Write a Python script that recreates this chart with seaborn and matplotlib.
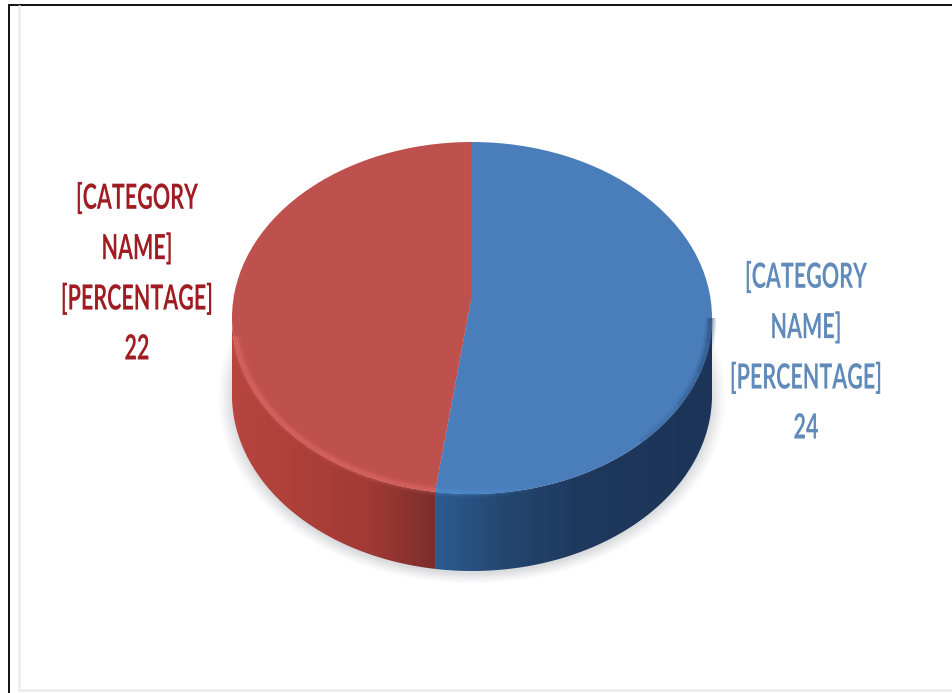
import numpy as np
import seaborn as sns
import matplotlib.pyplot as plt
import matplotlib.patheffects as pe
from matplotlib.colors import LinearSegmentedColormap
from matplotlib.patches import Ellipse, Polygon
from matplotlib.transforms import Affine2D

# Datos
etiqueta = '[CATEGORY\nNAME]\n[PERCENTAGE]\n'
valores = [24, 22]  # azul, rojo
colores = ['#4a7ebb', '#be504d']
colores_texto = ['#5f8ab9', '#a01c22']

sns.set_theme(style='white')
plt.rcParams['font.family'] = ['Lato', 'DejaVu Sans']

W, H = 953, 693
cx, cy, rx, ry = 472, 318, 240, 176   # elipse superior, en pixeles
grosor = 77 / ry
vertice = (-1 / rx, 18 / ry)          # vertice de los sectores (perspectiva)
inicio = 90

fig = plt.figure(figsize=(W / 100, H / 100), dpi=100)
ax = fig.add_axes([0, 0, 1, 1])


def arco(a0, a1, dy=0.0, r=1.0):
    t = np.radians(np.linspace(a0, a1, 160))
    return r * np.cos(t), r * np.sin(t) - dy


class Estrecho(pe.AbstractPathEffect):
    # comprime el texto en horizontal, la fuente instalada es mas ancha
    def __init__(self, x, f):
        super().__init__()
        self.x, self.f = x, f

    def draw_path(self, renderer, gc, tpath, affine, rgbFace=None):
        t = affine + Affine2D().translate(-self.x, 0).scale(self.f, 1).translate(self.x, 0)
        renderer.draw_path(gc, tpath, t, rgbFace)


# Donde corta el radio entre sectores con el borde de la elipse
ang = np.radians(inicio - 360 * valores[0] / sum(valores))
dx, dy = np.cos(ang), np.sin(ang)
b = vertice[0] * dx + vertice[1] * dy
s = -b + np.sqrt(b ** 2 - (vertice[0] ** 2 + vertice[1] ** 2 - 1))
corte = np.degrees(np.arctan2(vertice[1] + s * dy, vertice[0] + s * dx))

# Sombra suave bajo el cilindro
for r, a in zip(np.linspace(1.06, 1.0, 10), np.linspace(0.015, 0.05, 10)):
    ax.add_patch(Ellipse((0, -grosor - 0.015), 2 * r, 2 * r, fc='#8a9498', ec='none', alpha=a, zorder=1))

# Paredes laterales con degradado
cm_rojo = LinearSegmentedColormap.from_list('r', ['#b8453f', '#ad3f39', '#a23a35', '#7b2e2b'])
cm_azul = LinearSegmentedColormap.from_list('a', ['#2c5b91', '#24466f', '#1f3a5f', '#1d3659', '#1c3457'])
for a0, a1, cm in [(-180, corte, cm_rojo), (corte, 0, cm_azul)]:
    xs, ys = arco(a0, a1)
    xb, yb = arco(a1, a0, dy=grosor)
    pol = Polygon(np.c_[np.r_[xs, xb], np.r_[ys, yb]], closed=True, fc='none', ec='none', zorder=2)
    ax.add_patch(pol)
    im = ax.imshow(np.linspace(0, 1, 256)[None, :], cmap=cm, aspect='auto', zorder=2,
                   extent=[xs.min(), xs.max(), yb.min(), ys.max()])
    im.set_clip_path(pol)

# Cara superior: sectores recortados a la elipse
cara = Ellipse((0, 0), 2, 2, fc='none', ec='none', zorder=3)
ax.add_patch(cara)
sectores, _ = ax.pie(valores, colors=colores, startangle=inicio, counterclock=False, radius=1.4,
                     center=vertice, wedgeprops={'linewidth': 0, 'zorder': 3})
for w in sectores:
    w.set_clip_on(True)
    w.set_clip_path(cara)

# Brillo en el borde inferior de la cara
for lw, al in [(8, 0.07), (6, 0.1), (4, 0.14), (2.5, 0.2)]:
    ax.plot(*arco(186, corte + 360, r=0.99), color='#f07570', lw=lw, alpha=al, zorder=4, solid_capstyle='butt')
    # el brillo azul se apaga poco a poco
    for fin in [6, 12, 18, 24]:
        ax.plot(*arco(corte, corte + fin, r=0.99), color='#4f93d6', lw=lw, alpha=al * 0.45, zorder=4,
                solid_capstyle='butt')
    for ini in [-45, -30, -18, -8]:
        ax.plot(*arco(ini, 0, r=0.995), color='#2b4f7c', lw=lw, alpha=al * 0.45, zorder=4, solid_capstyle='butt')

ax.set_aspect('auto')
ax.set_xlim(-cx / rx, (W - cx) / rx)
ax.set_ylim((cy - H) / ry, cy / ry)
ax.axis('off')

# Etiquetas
for v, c, x, y in zip(valores, colores_texto, [806, 137], [353, 274]):
    fig.text(x / W, 1 - y / H, etiqueta + str(v), color=c, fontsize=25, ha='center', va='center',
             linespacing=1.69, fontweight='bold', path_effects=[Estrecho(x, 0.62)])

# Marco de la captura
fig.add_artist(plt.Line2D([9 / W, 9 / W], [0, 1 - 5 / H], color='#111111', lw=1.4))
fig.add_artist(plt.Line2D([9 / W, 1], [1 - 5 / H, 1 - 5 / H], color='#111111', lw=1.4))
fig.add_artist(plt.Line2D([19 / W, 19 / W], [3 / H, 1 - 6 / H], color='#ececec', lw=2))
fig.add_artist(plt.Line2D([19 / W, 1], [3 / H, 3 / H], color='#ececec', lw=2))

fig.savefig('out.png', dpi=100)
